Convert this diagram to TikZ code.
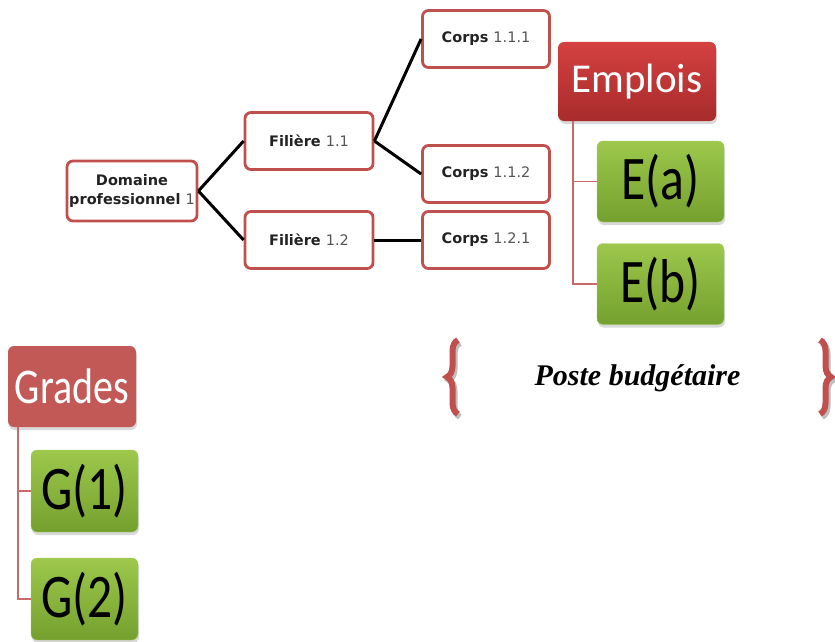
\documentclass[tikz,border=0pt]{standalone}
\usepackage{fontspec}
\setmainfont{Liberation Serif}
\newfontfamily\orgfont{DejaVu Sans}
\newfontfamily\calfont{Carlito}
\newfontfamily\calnarrow[FakeStretch=0.8]{Carlito}
\usetikzlibrary{shadows,decorations.pathreplacing}
\definecolor{orgred}{HTML}{C0504D}
\definecolor{orgnum}{HTML}{555555}
\definecolor{orgtxt}{HTML}{222222}
\definecolor{emptop}{HTML}{D44141}
\definecolor{empbot}{HTML}{A82B2B}
\definecolor{grntop}{HTML}{9DC84C}
\definecolor{grnbot}{HTML}{74A02E}
\definecolor{grnrim}{HTML}{A8CC6A}

\begin{document}
\begin{tikzpicture}[x=1pt, y=-1pt,
  orgbox/.style = {draw=orgred, line width=2.8pt, rounded corners=6pt, fill=white,
    minimum width=128pt, minimum height=57pt, inner sep=0pt, align=center,
    text=orgtxt, font=\orgfont\fontsize{14.5}{19}\selectfont},
  orgline/.style = {line width=3pt, black},
  catbox/.style = {rounded corners=6pt, inner sep=0pt, text=white,
    drop shadow={shadow xshift=1pt, shadow yshift=-3pt, opacity=0.3}},
  itembox/.style = {rounded corners=6pt, inner sep=0pt, draw=grnrim,
    top color=grntop, bottom color=grnbot,
    minimum width=127pt, minimum height=81pt,
    font=\calnarrow\fontsize{62}{62}\selectfont,
    drop shadow={shadow xshift=1pt, shadow yshift=-3pt, opacity=0.3}},
  elbow/.style = {line width=1.8pt, orgred!85!white},
  pbbrace/.style = {decorate, decoration={brace, amplitude=11pt}, line width=6pt}
]
  \useasboundingbox (0,0) rectangle (835,642);
  % arbre domaine / filieres / corps
  \node[orgbox, minimum width=130pt, minimum height=60pt] (dom) at (132,191)
    {\bfseries Domaine\\\bfseries professionnel {\mdseries\color{orgnum}1}};
  \node[orgbox] (fil11) at (309,141) {\bfseries Filière {\mdseries\color{orgnum}1.1}};
  \node[orgbox] (fil12) at (309,240) {\bfseries Filière {\mdseries\color{orgnum}1.2}};
  \node[orgbox, minimum width=127pt] (c111) at (486,39) {\bfseries Corps {\mdseries\color{orgnum}1.1.1}};
  \node[orgbox, minimum width=127pt] (c112) at (486,174) {\bfseries Corps {\mdseries\color{orgnum}1.1.2}};
  \node[orgbox, minimum width=127pt] (c121) at (486,240) {\bfseries Corps {\mdseries\color{orgnum}1.2.1}};
  \draw[orgline] (dom.east) -- (fil11.west);
  \draw[orgline] (dom.east) -- (fil12.west);
  \draw[orgline] (fil11.east) -- (c111.west);
  \draw[orgline] (fil11.east) -- (c112.west);
  \draw[orgline] (fil12.east) -- (c121.west);
  % emplois
  \node[catbox, top color=emptop, bottom color=empbot,
    minimum width=158pt, minimum height=79pt,
    font=\calfont\fontsize{41}{41}\selectfont] (emp) at (637,81.5) {Emplois};
  \node[itembox] (ea) at (660.5,181.5) {E(a)};
  \node[itembox] (eb) at (660.5,284) {E(b)};
  \draw[elbow] ([xshift=15pt]emp.south west) |- (ea.west);
  \draw[elbow] ([xshift=15pt]emp.south west) |- (eb.west);
  % grades
  \node[catbox, fill=orgred!95!white, minimum width=128pt, minimum height=81pt,
    font=\calnarrow\fontsize{50}{50}\selectfont] (gra) at (72,386.5) {Grades};
  \node[itembox, minimum width=107pt, minimum height=82pt] (g1) at (84.5,491) {G(1)};
  \node[itembox, minimum width=107pt, minimum height=82pt] (g2) at (84.5,599) {G(2)};
  \draw[elbow] ([xshift=10pt]gra.south west) |- (g1.west);
  \draw[elbow] ([xshift=10pt]gra.south west) |- (g2.west);
  % poste budgetaire
  \node[anchor=base, font=\fontsize{30}{30}\selectfont\bfseries\itshape] (pb) at (637.5,385)
    {Poste budgétaire};
  \draw[pbbrace, gray!50] (460,417) -- (460,343);
  \draw[pbbrace, orgred] (458,414) -- (458,340);
  \draw[pbbrace, gray!50] (822,343) -- (822,417);
  \draw[pbbrace, orgred] (820,340) -- (820,414);
\end{tikzpicture}
\end{document}
